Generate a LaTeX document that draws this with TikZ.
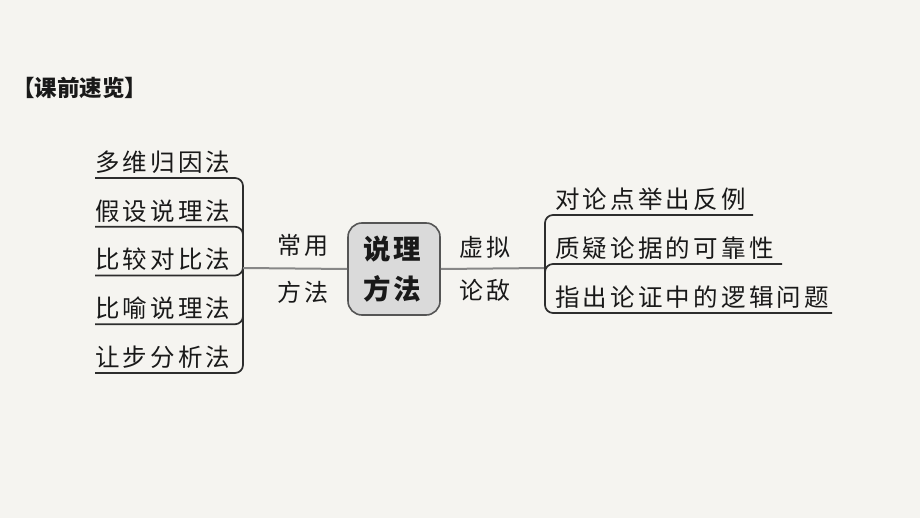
\documentclass[tikz,border=0pt]{standalone}
\usepackage{fontspec}
\setmainfont{Noto Sans CJK SC}
\newfontfamily\cjk{Noto Sans CJK SC}
\newlength\lspk
\setlength\lspk{3.2pt}
\def\lspi#1{\ifx\relax#1\else#1\kern\lspk\expandafter\lspi\fi}
\newcommand\lsp[1]{\lspi#1\relax}
\definecolor{paper}{RGB}{245,244,240}
\definecolor{ink}{RGB}{25,25,25}
\definecolor{uline}{RGB}{45,45,45}
\definecolor{conn}{RGB}{135,135,135}
\definecolor{boxfill}{RGB}{218,218,218}
\definecolor{boxline}{RGB}{85,85,85}
\tikzset{
  item/.style={anchor=west, inner sep=0pt, text=ink, font=\cjk\fontsize{24.5}{26}\selectfont},
  lbl/.style={inner sep=0pt, text=ink, font=\cjk\fontsize{24}{26}\selectfont},
  branch/.style={draw=uline, line width=1.7pt, rounded corners=8pt},
  link/.style={draw=conn, line width=2pt},
}
\begin{document}
\begin{tikzpicture}[x=1pt,y=-1pt]
\fill[paper] (0,0) rectangle (920,518);
\useasboundingbox (0,0) rectangle (920,518);

\node[anchor=west, inner sep=0pt, text=ink, font=\cjk\bfseries\fontsize{22.5}{24}\selectfont] (title) at (12,88) {【课前速览】};

% centre
\node[draw=boxline, fill=boxfill, line width=1.6pt, rounded corners=14pt,
      minimum width=92pt, minimum height=92pt, inner sep=0pt, align=center,
      text=ink, font=\cjk\bfseries\fontsize{27.5}{41}\selectfont] (c) at (394,269)
      {\lsp{说理}\\[-1pt]\lsp{方法}};

% left
\coordinate (lj) at (243,268);
\foreach \t [count=\i] in {多维归因法,假设说理法,比较对比法,比喻说理法,让步分析法}{
  \pgfmathsetmacro\yy{178+48.75*(\i-1)}
  \node[item] (l\i) at (95,\yy-16) {\expandafter\lsp\expandafter{\t}};
  \coordinate (le\i) at (95,\yy);
  \coordinate (lc\i) at (243,\yy);
  \draw[branch] (lj) -- (lc\i) -- (le\i);
}
\draw[link] (lj) -- (c.west);
\node[lbl] (ll1) at (305,245) {\lsp{常用}};
\node[lbl] (ll2) at (305,292) {\lsp{方法}};

% right
\coordinate (rj) at (545,268);
\draw[link] (c.east) -- (rj);
\node[lbl] (rl1) at (487,247) {\lsp{虚拟}};
\node[lbl] (rl2) at (487,290) {\lsp{论敌}};
\foreach \t/\yy/\xe [count=\i] in {对论点举出反例/215/753,质疑论据的可靠性/264/782,指出论证中的逻辑问题/313/832}{
  \node[item] (r\i) at (555,\yy-16) {\expandafter\lsp\expandafter{\t}};
  \coordinate (re\i) at (\xe,\yy);
  \coordinate (rc\i) at (545,\yy);
  \draw[branch] (rj) -- (rc\i) -- (re\i);
}
\end{tikzpicture}
\end{document}
